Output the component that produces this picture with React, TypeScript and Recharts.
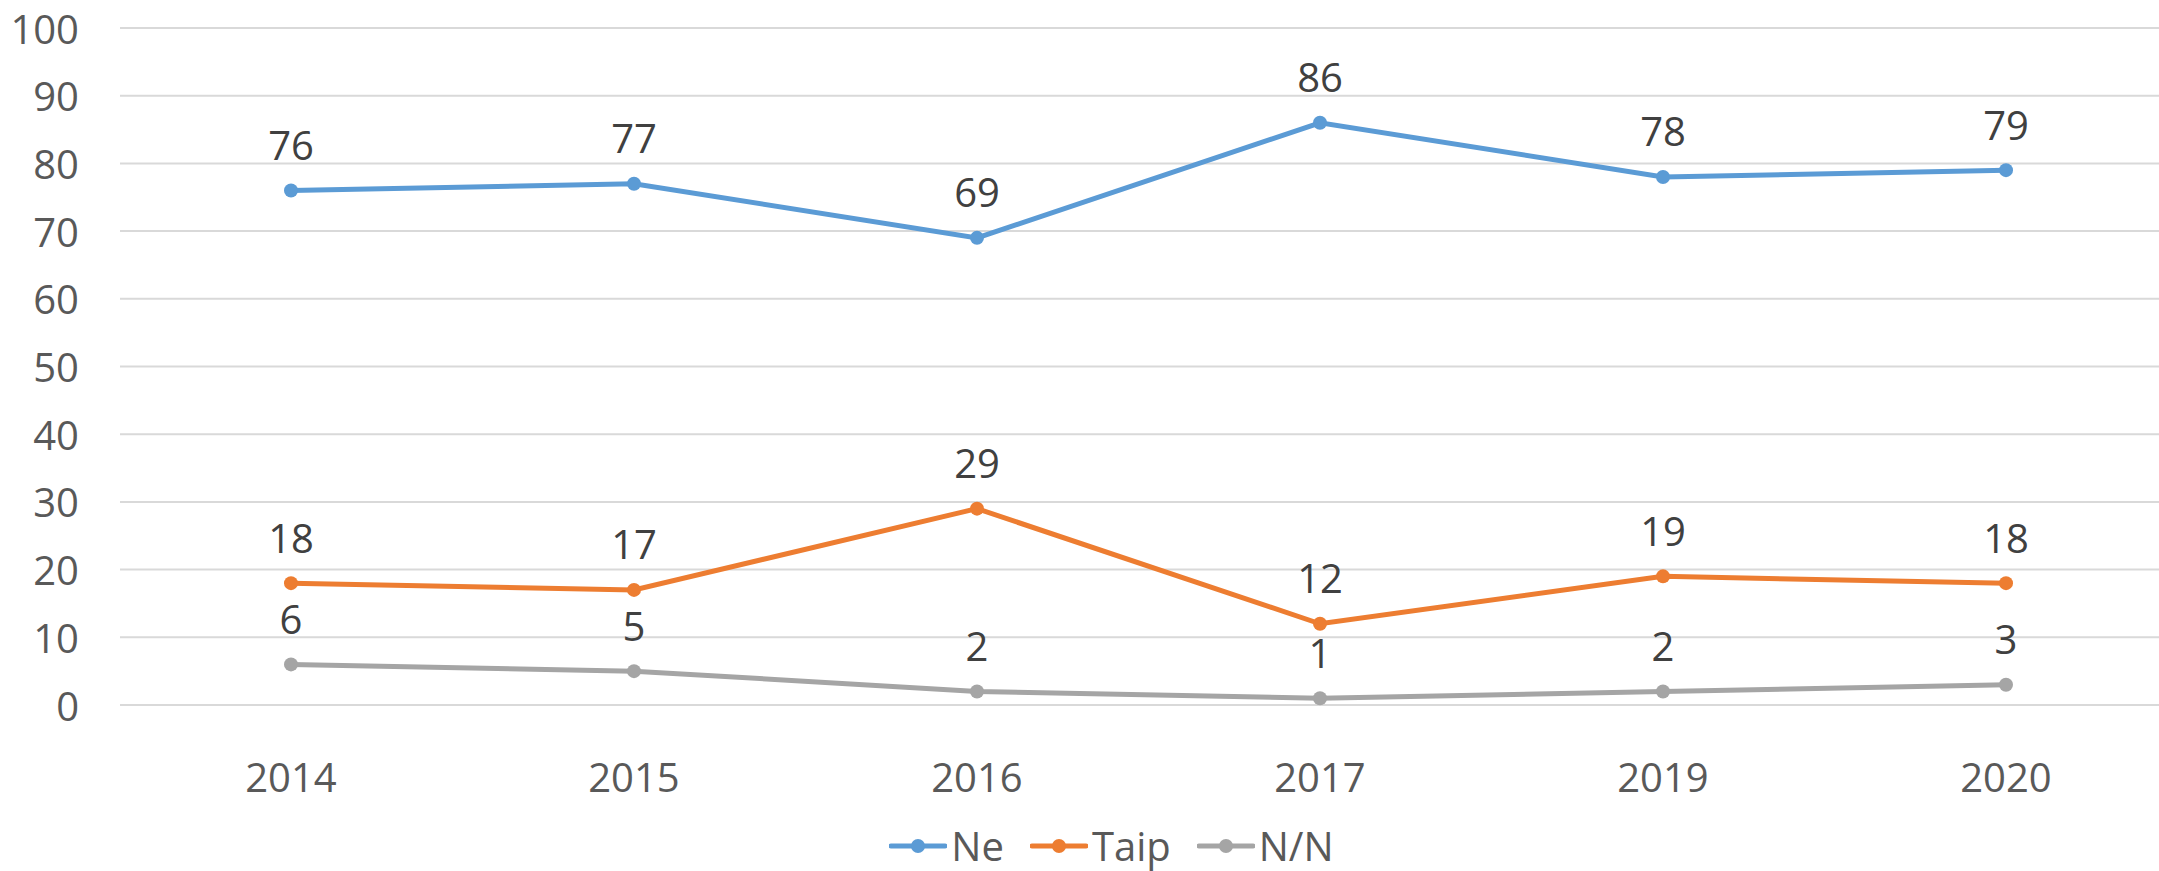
import { LineChart, Line, XAxis, YAxis, CartesianGrid, Legend, LabelList } from 'recharts';

const years = ['2014', '2015', '2016', '2017', '2019', '2020'];
const ne = [76, 77, 69, 86, 78, 79];
const taip = [18, 17, 29, 12, 19, 18];
const nn = [6, 5, 2, 1, 2, 3];
const yTicks = [0, 10, 20, 30, 40, 50, 60, 70, 80, 90, 100];

const SERIES = [
    { key: 'ne', name: 'Ne', color: '#5B9BD5' },
    { key: 'taip', name: 'Taip', color: '#ED7D31' },
    { key: 'nn', name: 'N/N', color: '#A5A5A5' },
];

const FONT = '"Open Sans", "Liberation Sans", sans-serif';

const data = years.map((year, i) => ({
    year,
    ne: ne[i],
    taip: taip[i],
    nn: nn[i],
}));

function XTick({ x, y, payload }: any) {
    return (
        <text x={x} y={y + 63} textAnchor="middle" dominantBaseline="central"
            fontSize={40} fill="#595959" fontFamily={FONT}>
            {payload.value}
        </text>
    );
}

function YTick({ y, payload }: any) {
    return (
        <text x={79} y={y} textAnchor="end" dominantBaseline="central"
            fontSize={40} fill="#595959" fontFamily={FONT}>
            {payload.value}
        </text>
    );
}

function PointLabel({ x, y, value }: any) {
    return (
        <text x={x} y={y - 46} textAnchor="middle" dominantBaseline="central"
            fontSize={40} fill="#404040" fontFamily={FONT}>
            {value}
        </text>
    );
}

function LegendContent() {
    return (
        <div style={{ display: 'flex', justifyContent: 'center', alignItems: 'center', height: 50, marginLeft: 90 }}>
            {SERIES.map((s) => (
                <div key={s.key} style={{ display: 'flex', alignItems: 'center', marginRight: 26 }}>
                    <svg width={58} height={20}>
                        <line x1={2} y1={10} x2={56} y2={10} stroke={s.color} strokeWidth={5} strokeLinecap="round" />
                        <circle cx={29} cy={10} r={7} fill={s.color} />
                    </svg>
                    <span style={{ fontFamily: FONT, fontSize: 40, color: '#595959', marginLeft: 4, lineHeight: '50px' }}>
                        {s.name}
                    </span>
                </div>
            ))}
        </div>
    );
}

export default function App() {
    return (
        <div style={{ position: 'absolute', left: 0, top: 0, background: '#fff' }}>
            <LineChart width={2159} height={871} data={data}
                margin={{ top: 28, right: 0, left: 0, bottom: 0 }}>
                <CartesianGrid vertical={false} stroke="#D9D9D9" strokeWidth={2} />
                <XAxis dataKey="year" height={116} axisLine={false} tickLine={false} tick={<XTick />}
                    interval={0} padding={{ left: 171, right: 153 }} />
                <YAxis width={120} domain={[0, 100]} ticks={yTicks} axisLine={false} tickLine={false} tick={<YTick />} interval={0} />
                <Legend verticalAlign="bottom" height={50} content={<LegendContent />} />
                {SERIES.map((s) => (
                    <Line key={s.key} dataKey={s.key} name={s.name} stroke={s.color} strokeWidth={5}
                        dot={{ r: 7, fill: s.color, stroke: 'none' }} activeDot={false}
                        isAnimationActive={false}>
                        <LabelList dataKey={s.key} content={<PointLabel />} />
                    </Line>
                ))}
            </LineChart>
        </div>
    );
}
